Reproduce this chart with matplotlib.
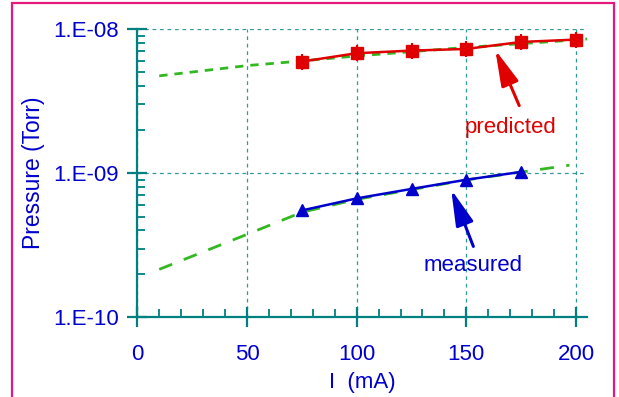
import matplotlib
matplotlib.use('Agg')
import matplotlib.pyplot as plt
from matplotlib.patches import Rectangle
from matplotlib.ticker import MultipleLocator, FixedLocator, FixedFormatter, LogLocator, NullFormatter

plt.rcParams['font.family'] = ['Liberation Sans', 'DejaVu Sans']

# data
current = [75, 100, 125, 150, 175, 200]
predicted = [5.94e-9, 6.79e-9, 7.08e-9, 7.27e-9, 8.13e-9, 8.44e-9]
measured = [5.51e-10, 6.68e-10, 7.77e-10, 9.0e-10, 1.02e-9]
current_meas = [75, 100, 125, 150, 175]

fit_pred_x = [10, 50, 75, 100, 150, 200, 207]
fit_pred_y = [4.73e-9, 5.57e-9, 6.0e-9, 6.5e-9, 7.45e-9, 8.4e-9, 8.57e-9]
fit_meas_x = [10, 50, 75, 100, 150, 197]
fit_meas_y = [2.15e-10, 3.76e-10, 5.35e-10, 6.58e-10, 8.97e-10, 1.135e-9]

xticks = [0, 50, 100, 150, 200]
yticks = [1e-10, 1e-9, 1e-8]
ytick_labels = ['1.E-10', '1.E-09', '1.E-08']

teal = '#008080'
blue = '#0000cc'
red = '#e00000'
green = '#33b822'

fig = plt.figure(figsize=(6.19, 3.97), dpi=100)
ax = fig.add_axes([0.2218, 0.2008, 0.7265, 0.7262])

ax.set_yscale('log')
ax.set_xlim(0, 205)
ax.set_ylim(1e-10, 1e-8)

# fitted curves
ax.plot(fit_pred_x, fit_pred_y, color=green, lw=2, dashes=(3, 2.5), zorder=2)
ax.plot(fit_meas_x, fit_meas_y, color=green, lw=2, dashes=(5, 4.5), zorder=2)

# data
ax.plot(current, predicted, color=red, lw=1.8, marker='s', ms=8, zorder=3)
ax.plot(current, predicted, ls='none', color=red, marker='|', ms=11, mew=1.5, zorder=3)
ax.plot(current_meas, measured, color=blue, lw=1.8, marker='^', ms=9, zorder=3)

# arrows + labels
arrow = '-|>,head_length=2.2,head_width=0.55'
ax.annotate('', xy=(163.2, 7.16e-9), xytext=(174.1, 2.94e-9),
            arrowprops=dict(arrowstyle=arrow, mutation_scale=10, color=red, lw=2.2,
                            shrinkA=0, shrinkB=0))
ax.text(170, 2.07e-9, 'predicted', color=red, fontsize=16, ha='center', va='center')
ax.annotate('', xy=(143.1, 7.7e-10), xytext=(153.2, 3.1e-10),
            arrowprops=dict(arrowstyle=arrow, mutation_scale=10, color=blue, lw=2.2,
                            shrinkA=0, shrinkB=0))
ax.text(153.2, 2.29e-10, 'measured', color=blue, fontsize=16, ha='center', va='center')

# axes styling
for s in ['top', 'right']:
    ax.spines[s].set_visible(False)
for s in ['left', 'bottom']:
    ax.spines[s].set_color(teal)
    ax.spines[s].set_linewidth(1.6)

ax.xaxis.set_major_locator(FixedLocator(xticks))
ax.xaxis.set_minor_locator(MultipleLocator(10))
ax.yaxis.set_major_locator(FixedLocator(yticks))
ax.yaxis.set_major_formatter(FixedFormatter(ytick_labels))
ax.yaxis.set_minor_locator(LogLocator(base=10, subs=range(2, 10)))
ax.yaxis.set_minor_formatter(NullFormatter())

ax.tick_params(which='major', direction='inout', length=14, width=1.6, color=teal,
               labelcolor=blue, labelsize=16)
ax.tick_params(which='minor', direction='in', length=6, width=1.3, color=teal)
ax.tick_params(axis='x', which='major', pad=12)
ax.tick_params(axis='y', which='major', pad=6)

ax.grid(True, which='major', color=teal, lw=0.9, dashes=(3, 3), alpha=0.8)

ax.set_xlabel('I  (mA)', color=blue, fontsize=16, labelpad=5)
ax.set_ylabel('Pressure (Torr)', color=blue, fontsize=16.5, labelpad=6)

# pink frame
fig.patches.append(Rectangle((12 / 619, -0.1), 602 / 619, 1.1 - 3 / 397,
                             transform=fig.transFigure, fill=False,
                             edgecolor='#e8197e', lw=1.6))

fig.savefig('out.png', dpi=100)
